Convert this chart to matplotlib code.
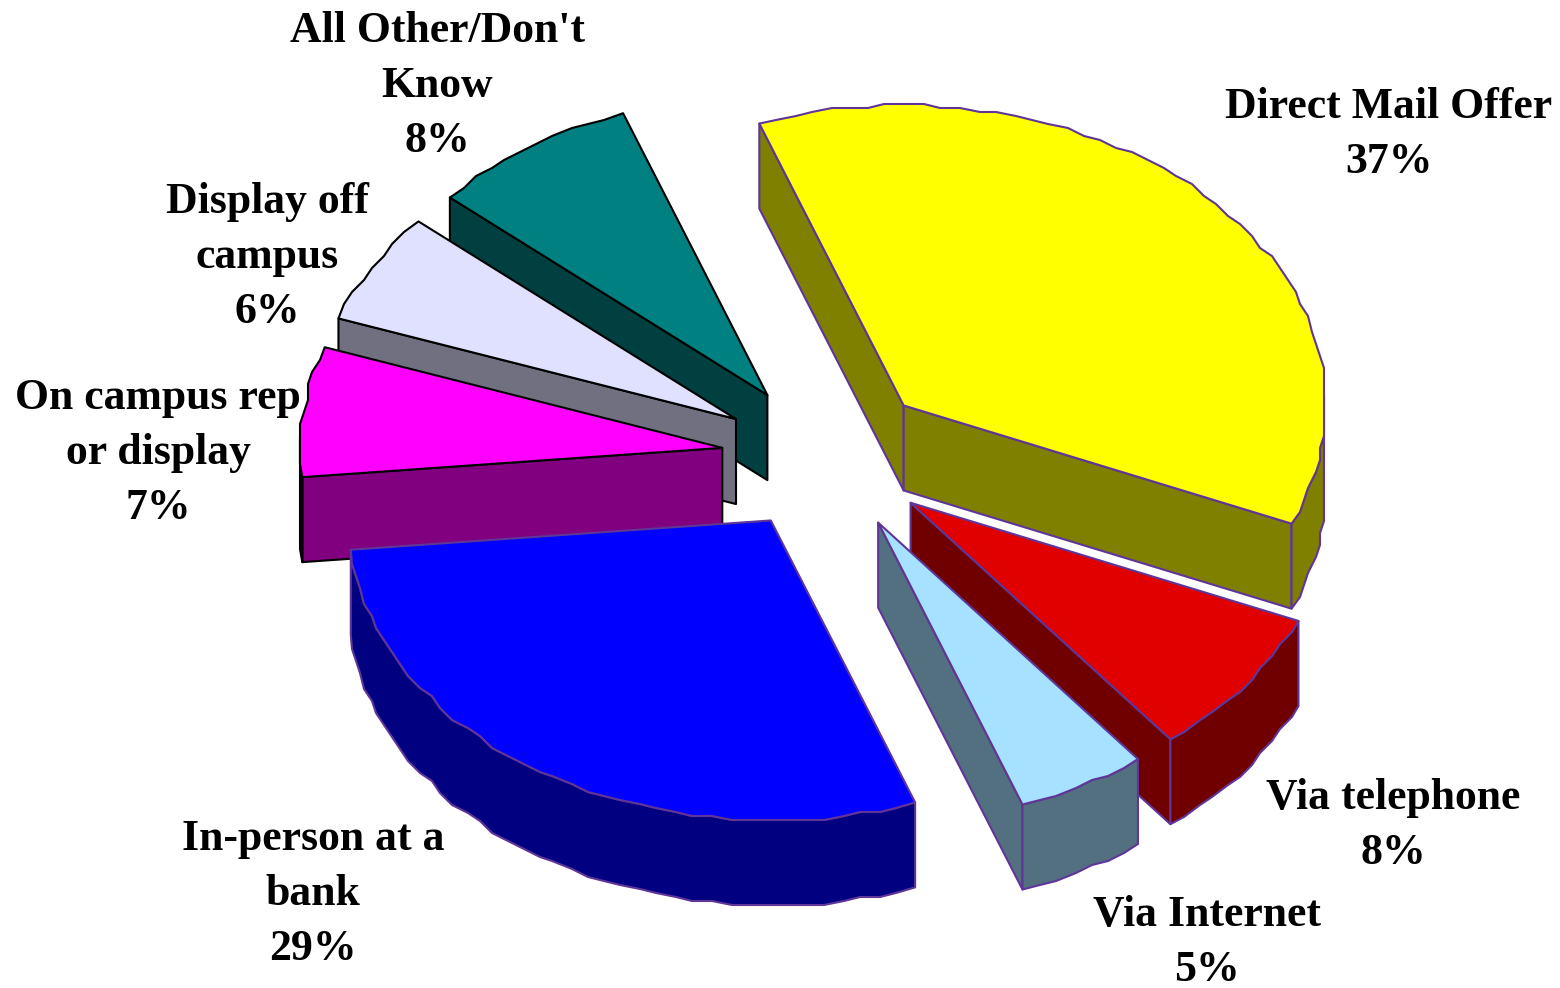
import numpy as np
import matplotlib
matplotlib.use("Agg")
import matplotlib.pyplot as plt
from matplotlib.patches import Polygon

# Survey shares, listed clockwise from the start angle
categories = ["Direct Mail Offer", "Via telephone", "Via Internet", "In-person at a\nbank",
              "On campus rep\nor display", "Display off\ncampus", "All Other/Don't\nKnow"]
shares = [37, 8, 5, 29, 7, 6, 8]

top_colors = ["#FFFF00", "#E00000", "#A6E1FF", "#0000FF", "#FF00FF", "#E0E0FF", "#008080"]
side_colors = ["#808000", "#700000", "#537080", "#000080", "#800080", "#707080", "#004040"]
edge_colors = ["#5F3598", "#5F3598", "#5F3598", "#5F3598", "#000000", "#000000", "#000000"]

# Label anchor (centre x, top line centre y) per category
label_pos = [(1389, 107), (1393, 798), (1207, 915), (313, 839), (158, 398), (267, 202), (437, 31)]

CX, CY = 827, 457
RX, RY = 422, 300
DEPTH = 85
EXPLODE = 0.25
START = -20.0
ARC_GRID = 4.0  # coarse outline steps along the curved edges


def ellipse_xy(theta_deg, cx, cy):
    t = np.radians(theta_deg)
    return cx + RX * np.sin(t), cy - RY * np.cos(t)


def stepped(values):
    # Snap interior arc points to a grid, leaving the two corners exact
    out = np.round(values / ARC_GRID) * ARC_GRID
    out[0], out[-1] = values[0], values[-1]
    return out


fig = plt.figure(figsize=(15.6, 9.88), dpi=100, facecolor="white")
ax = fig.add_axes([0, 0, 1, 1])
ax.set_xlim(0, 1560)
ax.set_ylim(988, 0)
ax.axis("off")

spans = np.array(shares) / sum(shares) * 360.0
starts = START + np.concatenate([[0], np.cumsum(spans)[:-1]])

# Back slices first, so nearer ones overpaint them
draw_order = [6, 5, 4, 0, 1, 2, 3]

for i in draw_order:
    a0, a1 = starts[i], starts[i] + spans[i]
    mid = np.radians((a0 + a1) / 2)
    apex_x = CX + EXPLODE * RX * np.sin(mid)
    apex_y = CY - EXPLODE * RY * np.cos(mid)
    theta = np.linspace(a0, a1, max(int((a1 - a0) / 2.5), 3) + 1)
    ex, ey = ellipse_xy(theta, apex_x, apex_y)
    ex, ey = stepped(ex), stepped(ey)
    style = dict(edgecolor=edge_colors[i], linewidth=1.5, joinstyle="round")

    # Radial walls: the opening edge shows on the left half, the closing edge on the right
    edges = []
    if np.sin(np.radians(a0)) < 0:
        edges.append(0)
    if np.sin(np.radians(a1)) > 0:
        edges.append(-1)
    for k in edges:
        wall = [(apex_x, apex_y), (ex[k], ey[k]), (ex[k], ey[k] + DEPTH), (apex_x, apex_y + DEPTH)]
        ax.add_patch(Polygon(wall, closed=True, facecolor=side_colors[i], **style))

    # Outer rim follows the top face's outline where it faces the viewer
    front = np.flatnonzero((theta >= 90.0) & (theta <= 270.0))
    if front.size:
        j0, j1 = max(front[0] - 1, 0), min(front[-1] + 1, theta.size - 1)
        rx, ry = ex[j0:j1 + 1], ey[j0:j1 + 1]
        pts = np.r_[np.c_[rx, ry], np.c_[rx, ry + DEPTH][::-1]]
        ax.add_patch(Polygon(pts, closed=True, facecolor=side_colors[i], **style))

    # Top face
    pts = np.r_[[[apex_x, apex_y]], np.c_[ex, ey]]
    ax.add_patch(Polygon(pts, closed=True, facecolor=top_colors[i], **style))

for name, share, (x, y) in zip(categories, shares, label_pos):
    lines = name.split("\n") + [f"{share}%"]
    for n, line in enumerate(lines):
        ax.text(x, y + n * 55, line, ha="center", va="center", family="Liberation Serif",
                weight="bold", fontsize=31.5, color="black")

fig.savefig("out.png", dpi=100)
